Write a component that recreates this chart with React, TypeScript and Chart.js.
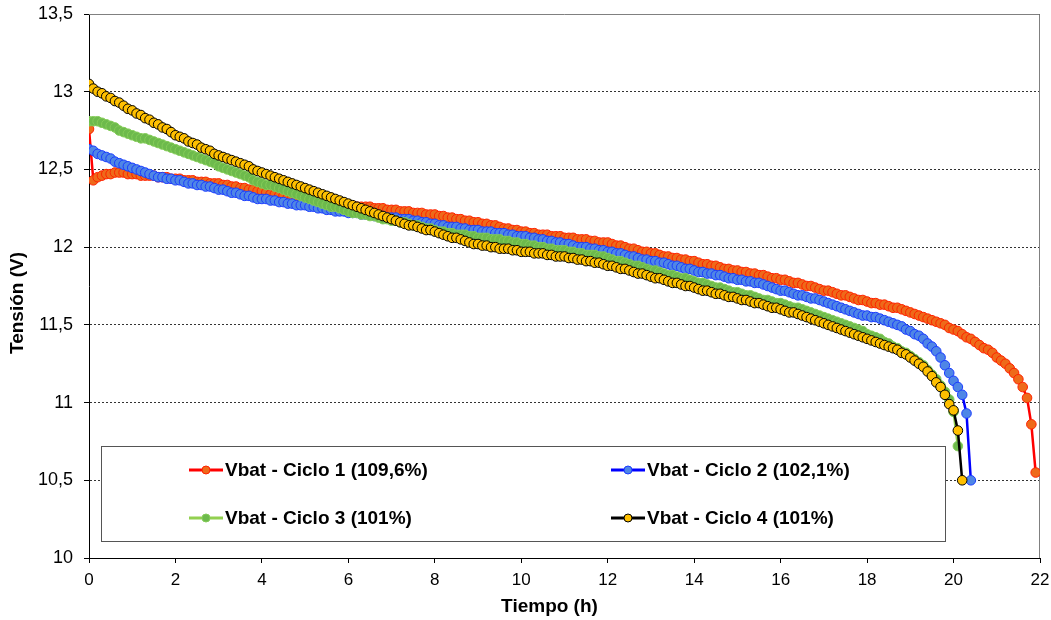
import React, { useEffect, useRef } from "react";
import { Chart, registerables } from "chart.js";

Chart.register(...registerables);

// Sampling interval of the logger (hours between consecutive readings)
const TIME_STEP_H = 0.1;

const X_MIN = 0;
const X_MAX = 22;
const X_STEP = 2;
const Y_MIN = 10;
const Y_MAX = 13.5;
const Y_STEP = 0.5;

const X_TITLE = "Tiempo (h)";
const Y_TITLE = "Tensión (V)";

const SERIES_LABELS = [
  "Vbat - Ciclo 1 (109,6%)",
  "Vbat - Ciclo 2 (102,1%)",
  "Vbat - Ciclo 3 (101%)",
  "Vbat - Ciclo 4 (101%)",
];

// Vbat (V), one reading every TIME_STEP_H hours, starting at t = 0
const VBAT_CICLO_1 = [
  12.76, 12.43, 12.45, 12.46, 12.47, 12.47, 12.48, 12.48, 12.48, 12.47,
  12.47, 12.47, 12.46, 12.46, 12.46, 12.46, 12.45, 12.45, 12.45, 12.44,
  12.44, 12.44, 12.43, 12.43, 12.43, 12.42, 12.42, 12.42, 12.41, 12.41,
  12.41, 12.40, 12.40, 12.39, 12.39, 12.38, 12.38, 12.37, 12.37, 12.36,
  12.36, 12.35, 12.34, 12.34, 12.33, 12.33, 12.32, 12.32, 12.31, 12.31,
  12.30, 12.29, 12.29, 12.28, 12.28, 12.28, 12.27, 12.27, 12.27, 12.27,
  12.26, 12.26, 12.26, 12.26, 12.26, 12.26, 12.25, 12.25, 12.25, 12.24,
  12.24, 12.24, 12.23, 12.23, 12.23, 12.22, 12.22, 12.22, 12.21, 12.21,
  12.21, 12.20, 12.20, 12.19, 12.19, 12.18, 12.18, 12.17, 12.17, 12.16,
  12.16, 12.15, 12.15, 12.14, 12.14, 12.13, 12.12, 12.12, 12.11, 12.11,
  12.10, 12.10, 12.09, 12.09, 12.08, 12.08, 12.08, 12.07, 12.07, 12.07,
  12.06, 12.06, 12.06, 12.05, 12.05, 12.05, 12.04, 12.04, 12.03, 12.03,
  12.03, 12.02, 12.01, 12.01, 12.00, 11.99, 11.99, 11.98, 11.97, 11.97,
  11.96, 11.96, 11.95, 11.94, 11.94, 11.93, 11.93, 11.92, 11.92, 11.91,
  11.91, 11.90, 11.89, 11.89, 11.88, 11.88, 11.87, 11.86, 11.86, 11.85,
  11.85, 11.84, 11.84, 11.83, 11.83, 11.82, 11.82, 11.81, 11.80, 11.80,
  11.79, 11.79, 11.78, 11.77, 11.77, 11.76, 11.75, 11.75, 11.74, 11.73,
  11.72, 11.72, 11.71, 11.70, 11.69, 11.69, 11.68, 11.67, 11.66, 11.66,
  11.65, 11.64, 11.64, 11.63, 11.63, 11.62, 11.61, 11.61, 11.60, 11.59,
  11.58, 11.57, 11.56, 11.55, 11.54, 11.53, 11.52, 11.51, 11.50, 11.48,
  11.47, 11.46, 11.44, 11.42, 11.41, 11.39, 11.37, 11.35, 11.34, 11.32,
  11.29, 11.27, 11.25, 11.22, 11.19, 11.15, 11.10, 11.03, 10.86, 10.55,
];

const VBAT_CICLO_2 = [
  12.63, 12.62, 12.60, 12.59, 12.58, 12.57, 12.55, 12.54, 12.53, 12.52,
  12.51, 12.50, 12.49, 12.48, 12.47, 12.46, 12.45, 12.45, 12.44, 12.44,
  12.43, 12.43, 12.42, 12.41, 12.41, 12.40, 12.40, 12.39, 12.39, 12.38,
  12.37, 12.37, 12.36, 12.35, 12.35, 12.34, 12.33, 12.33, 12.32, 12.31,
  12.31, 12.31, 12.30, 12.30, 12.29, 12.29, 12.28, 12.28, 12.27, 12.27,
  12.27, 12.26, 12.26, 12.25, 12.25, 12.24, 12.24, 12.23, 12.23, 12.23,
  12.22, 12.22, 12.22, 12.21, 12.21, 12.21, 12.20, 12.20, 12.20, 12.19,
  12.19, 12.19, 12.18, 12.18, 12.18, 12.17, 12.17, 12.16, 12.16, 12.15,
  12.15, 12.14, 12.14, 12.13, 12.13, 12.13, 12.12, 12.12, 12.11, 12.11,
  12.11, 12.10, 12.10, 12.10, 12.09, 12.09, 12.09, 12.08, 12.08, 12.07,
  12.07, 12.07, 12.06, 12.06, 12.05, 12.05, 12.04, 12.04, 12.03, 12.03,
  12.02, 12.02, 12.01, 12.00, 12.00, 12.00, 11.99, 11.99, 11.98, 11.98,
  11.97, 11.97, 11.96, 11.96, 11.95, 11.94, 11.94, 11.93, 11.92, 11.92,
  11.91, 11.91, 11.90, 11.90, 11.89, 11.88, 11.88, 11.87, 11.86, 11.86,
  11.85, 11.84, 11.84, 11.83, 11.83, 11.82, 11.82, 11.81, 11.80, 11.80,
  11.79, 11.79, 11.78, 11.78, 11.77, 11.77, 11.76, 11.75, 11.74, 11.73,
  11.72, 11.72, 11.71, 11.70, 11.69, 11.69, 11.68, 11.67, 11.67, 11.66,
  11.65, 11.64, 11.63, 11.62, 11.61, 11.60, 11.59, 11.58, 11.57, 11.56,
  11.56, 11.55, 11.55, 11.54, 11.53, 11.52, 11.51, 11.50, 11.49, 11.47,
  11.46, 11.44, 11.43, 11.41, 11.38, 11.36, 11.33, 11.29, 11.24, 11.19,
  11.14, 11.10, 11.05, 10.93, 10.50,
];

const VBAT_CICLO_3 = [
  12.81, 12.81, 12.81, 12.80, 12.79, 12.78, 12.77, 12.75, 12.74, 12.73,
  12.72, 12.71, 12.70, 12.70, 12.69, 12.68, 12.67, 12.66, 12.65, 12.64,
  12.63, 12.62, 12.61, 12.60, 12.59, 12.58, 12.57, 12.56, 12.55, 12.54,
  12.52, 12.51, 12.50, 12.49, 12.48, 12.47, 12.46, 12.45, 12.43, 12.42,
  12.41, 12.40, 12.40, 12.39, 12.38, 12.37, 12.36, 12.35, 12.34, 12.33,
  12.32, 12.31, 12.30, 12.29, 12.28, 12.27, 12.26, 12.26, 12.25, 12.24,
  12.23, 12.22, 12.22, 12.21, 12.21, 12.20, 12.20, 12.19, 12.18, 12.18,
  12.17, 12.17, 12.16, 12.16, 12.15, 12.14, 12.14, 12.13, 12.12, 12.12,
  12.11, 12.10, 12.10, 12.09, 12.09, 12.08, 12.08, 12.08, 12.07, 12.07,
  12.06, 12.06, 12.06, 12.05, 12.05, 12.05, 12.04, 12.04, 12.03, 12.03,
  12.02, 12.02, 12.01, 12.01, 12.00, 12.00, 11.99, 11.99, 11.98, 11.98,
  11.98, 11.97, 11.97, 11.96, 11.96, 11.95, 11.95, 11.95, 11.94, 11.94,
  11.93, 11.92, 11.91, 11.91, 11.90, 11.89, 11.88, 11.88, 11.87, 11.86,
  11.85, 11.85, 11.84, 11.83, 11.82, 11.82, 11.81, 11.80, 11.80, 11.79,
  11.78, 11.77, 11.77, 11.76, 11.75, 11.74, 11.74, 11.73, 11.72, 11.71,
  11.71, 11.70, 11.69, 11.69, 11.68, 11.67, 11.66, 11.66, 11.65, 11.64,
  11.64, 11.63, 11.62, 11.61, 11.61, 11.60, 11.59, 11.58, 11.57, 11.56,
  11.55, 11.54, 11.53, 11.52, 11.51, 11.50, 11.49, 11.48, 11.47, 11.46,
  11.44, 11.43, 11.42, 11.41, 11.39, 11.38, 11.36, 11.35, 11.33, 11.32,
  11.30, 11.28, 11.26, 11.24, 11.21, 11.18, 11.15, 11.11, 11.07, 11.02,
  10.94, 10.72,
];

const VBAT_CICLO_4 = [
  13.05, 13.02, 13.00, 12.99, 12.97, 12.96, 12.94, 12.93, 12.91, 12.89,
  12.88, 12.86, 12.85, 12.83, 12.82, 12.80, 12.79, 12.77, 12.76, 12.74,
  12.72, 12.71, 12.70, 12.68, 12.67, 12.66, 12.64, 12.63, 12.62, 12.60,
  12.59, 12.58, 12.57, 12.56, 12.55, 12.54, 12.53, 12.52, 12.50, 12.49,
  12.48, 12.47, 12.46, 12.45, 12.44, 12.43, 12.42, 12.41, 12.40, 12.39,
  12.38, 12.37, 12.36, 12.35, 12.34, 12.33, 12.32, 12.31, 12.30, 12.29,
  12.28, 12.27, 12.26, 12.25, 12.24, 12.23, 12.22, 12.21, 12.20, 12.19,
  12.18, 12.17, 12.16, 12.15, 12.14, 12.14, 12.13, 12.12, 12.11, 12.11,
  12.10, 12.09, 12.08, 12.07, 12.06, 12.06, 12.05, 12.04, 12.03, 12.02,
  12.02, 12.01, 12.01, 12.00, 12.00, 11.99, 11.99, 11.99, 11.98, 11.98,
  11.97, 11.97, 11.97, 11.96, 11.96, 11.96, 11.95, 11.95, 11.94, 11.94,
  11.94, 11.93, 11.93, 11.92, 11.92, 11.91, 11.91, 11.90, 11.90, 11.89,
  11.88, 11.88, 11.87, 11.86, 11.86, 11.85, 11.84, 11.83, 11.83, 11.82,
  11.81, 11.80, 11.80, 11.79, 11.78, 11.77, 11.77, 11.76, 11.75, 11.75,
  11.74, 11.73, 11.72, 11.72, 11.71, 11.70, 11.70, 11.69, 11.68, 11.68,
  11.67, 11.66, 11.66, 11.65, 11.64, 11.64, 11.63, 11.62, 11.61, 11.61,
  11.60, 11.59, 11.58, 11.58, 11.57, 11.56, 11.55, 11.54, 11.53, 11.52,
  11.51, 11.50, 11.49, 11.48, 11.47, 11.46, 11.45, 11.44, 11.43, 11.42,
  11.41, 11.40, 11.39, 11.38, 11.37, 11.36, 11.35, 11.34, 11.32, 11.31,
  11.29, 11.27, 11.25, 11.23, 11.20, 11.17, 11.13, 11.10, 11.05, 10.99,
  10.95, 10.82, 10.50,
];

const SERIES_VALUES = [VBAT_CICLO_1, VBAT_CICLO_2, VBAT_CICLO_3, VBAT_CICLO_4];

const LINE_COLORS = ["#FF0000", "#0000FF", "#92D050", "#000000"];
const MARKER_FILLS = ["#EE6A1A", "#4F86E6", "#6DBA4C", "#FFC000"];
const MARKER_BORDERS = ["#FF2200", "#1A3CFF", "#84CC58", "#000000"];

const FONT = "'Liberation Sans', Arial, Helvetica, sans-serif";

export default function App() {
  const canvasRef = useRef<HTMLCanvasElement | null>(null);

  useEffect(() => {
    document.body.style.margin = "0";
    const canvas = canvasRef.current;
    if (!canvas) return;

    const toPoints = (vals: number[]) =>
      vals.map((y, i) => ({ x: Math.round(i * TIME_STEP_H * 100) / 100, y }));

    const framePlugin = {
      id: "plotFrame",
      beforeDatasetsDraw(chart: any) {
        const { ctx, chartArea } = chart;
        ctx.save();
        ctx.strokeStyle = "#808080";
        ctx.lineWidth = 1;
        ctx.beginPath();
        ctx.moveTo(chartArea.left, chartArea.top + 0.5);
        ctx.lineTo(chartArea.right - 0.5, chartArea.top + 0.5);
        ctx.lineTo(chartArea.right - 0.5, chartArea.bottom);
        ctx.stroke();
        ctx.restore();
      },
    };

    const axisTitlePlugin = {
      id: "axisTitles",
      afterDraw(chart: any) {
        const { ctx, chartArea } = chart;
        ctx.save();
        ctx.fillStyle = "#000000";
        ctx.font = `bold 19px ${FONT}`;
        ctx.textAlign = "center";
        ctx.textBaseline = "middle";
        ctx.fillText(X_TITLE, (chartArea.left + chartArea.right) / 2 - 15, chartArea.bottom + 49);
        ctx.translate(18, (chartArea.top + chartArea.bottom) / 2 + 17);
        ctx.rotate(-Math.PI / 2);
        ctx.fillText(Y_TITLE, 0, 0);
        ctx.restore();
      },
    };

    const legendPlugin = {
      id: "boxLegend",
      afterDatasetsDraw(chart: any) {
        const { ctx, chartArea } = chart;
        const bx = chartArea.left + 12;
        const by = chartArea.top + 432;
        const bw = 844;
        const bh = 95;
        ctx.save();
        ctx.fillStyle = "#FFFFFF";
        ctx.fillRect(bx, by, bw, bh);
        ctx.strokeStyle = "#555555";
        ctx.lineWidth = 1;
        ctx.strokeRect(bx + 0.5, by + 0.5, bw, bh);
        const cols = [bx + 88, bx + 510];
        const rows = [by + 24, by + 72];
        chart.data.datasets.forEach((ds: any, i: number) => {
          const x = cols[i % 2];
          const y = rows[Math.floor(i / 2)];
          ctx.strokeStyle = ds.borderColor;
          ctx.lineWidth = 3;
          ctx.beginPath();
          ctx.moveTo(x, y);
          ctx.lineTo(x + 34, y);
          ctx.stroke();
          ctx.beginPath();
          ctx.arc(x + 17, y, 4, 0, Math.PI * 2);
          ctx.fillStyle = ds.pointBackgroundColor;
          ctx.fill();
          ctx.lineWidth = 1;
          ctx.strokeStyle = ds.pointBorderColor;
          ctx.stroke();
          ctx.fillStyle = "#000000";
          ctx.font = `bold 19px ${FONT}`;
          ctx.textBaseline = "middle";
          ctx.textAlign = "left";
          ctx.fillText(ds.label, x + 36, y + 1);
        });
        ctx.restore();
      },
    };

    const chart = new Chart(canvas, {
      type: "line",
      data: {
        datasets: SERIES_VALUES.map((vals, i) => ({
          label: SERIES_LABELS[i],
          data: toPoints(vals),
          borderColor: LINE_COLORS[i],
          backgroundColor: MARKER_FILLS[i],
          borderWidth: 2.5,
          pointRadius: 4.8,
          pointBorderWidth: 1,
          pointBackgroundColor: MARKER_FILLS[i],
          pointBorderColor: MARKER_BORDERS[i],
          tension: 0,
          fill: false,
          order: SERIES_VALUES.length - i,
        })),
      },
      options: {
        responsive: false,
        animation: false,
        devicePixelRatio: 1,
        layout: { padding: { left: 0, top: 14, right: 11, bottom: 0 } },
        plugins: {
          legend: { display: false },
          tooltip: { enabled: false },
        },
        scales: {
          x: {
            type: "linear",
            min: X_MIN,
            max: X_MAX,
            ticks: {
              stepSize: X_STEP,
              color: "#000",
              font: { family: FONT, size: 17 },
              padding: 7,
              maxRotation: 0,
            },
            grid: {
              drawOnChartArea: false,
              drawTicks: true,
              tickLength: 5,
              tickColor: "#000",
            },
            border: { display: true, color: "#000", width: 1 },
            title: { display: false, text: X_TITLE },
            afterFit: (s: any) => {
              s.height = 62;
              s.paddingLeft = 0;
              s.paddingRight = 0;
            },
          },
          y: {
            type: "linear",
            min: Y_MIN,
            max: Y_MAX,
            ticks: {
              stepSize: Y_STEP,
              color: "#000",
              font: { family: FONT, size: 18 },
              padding: 11,
              callback: (v: any) => String(v).replace(".", ","),
            },
            grid: {
              color: "#333",
              lineWidth: 1,
              drawTicks: true,
              tickLength: 5,
              tickColor: "#000",
              tickBorderDash: [],
            },
            border: { display: true, color: "#000", width: 1, dash: [2, 2] },
            title: { display: false, text: Y_TITLE },
            afterFit: (s: any) => {
              s.width = 89;
              s.paddingTop = 0;
              s.paddingBottom = 0;
            },
          },
        },
      },
      plugins: [framePlugin, legendPlugin, axisTitlePlugin],
    });

    return () => chart.destroy();
  }, []);

  return (
    <div style={{ width: 1051, height: 620, background: "#fff" }}>
      <canvas ref={canvasRef} width={1051} height={620} style={{ display: "block" }} />
    </div>
  );
}
